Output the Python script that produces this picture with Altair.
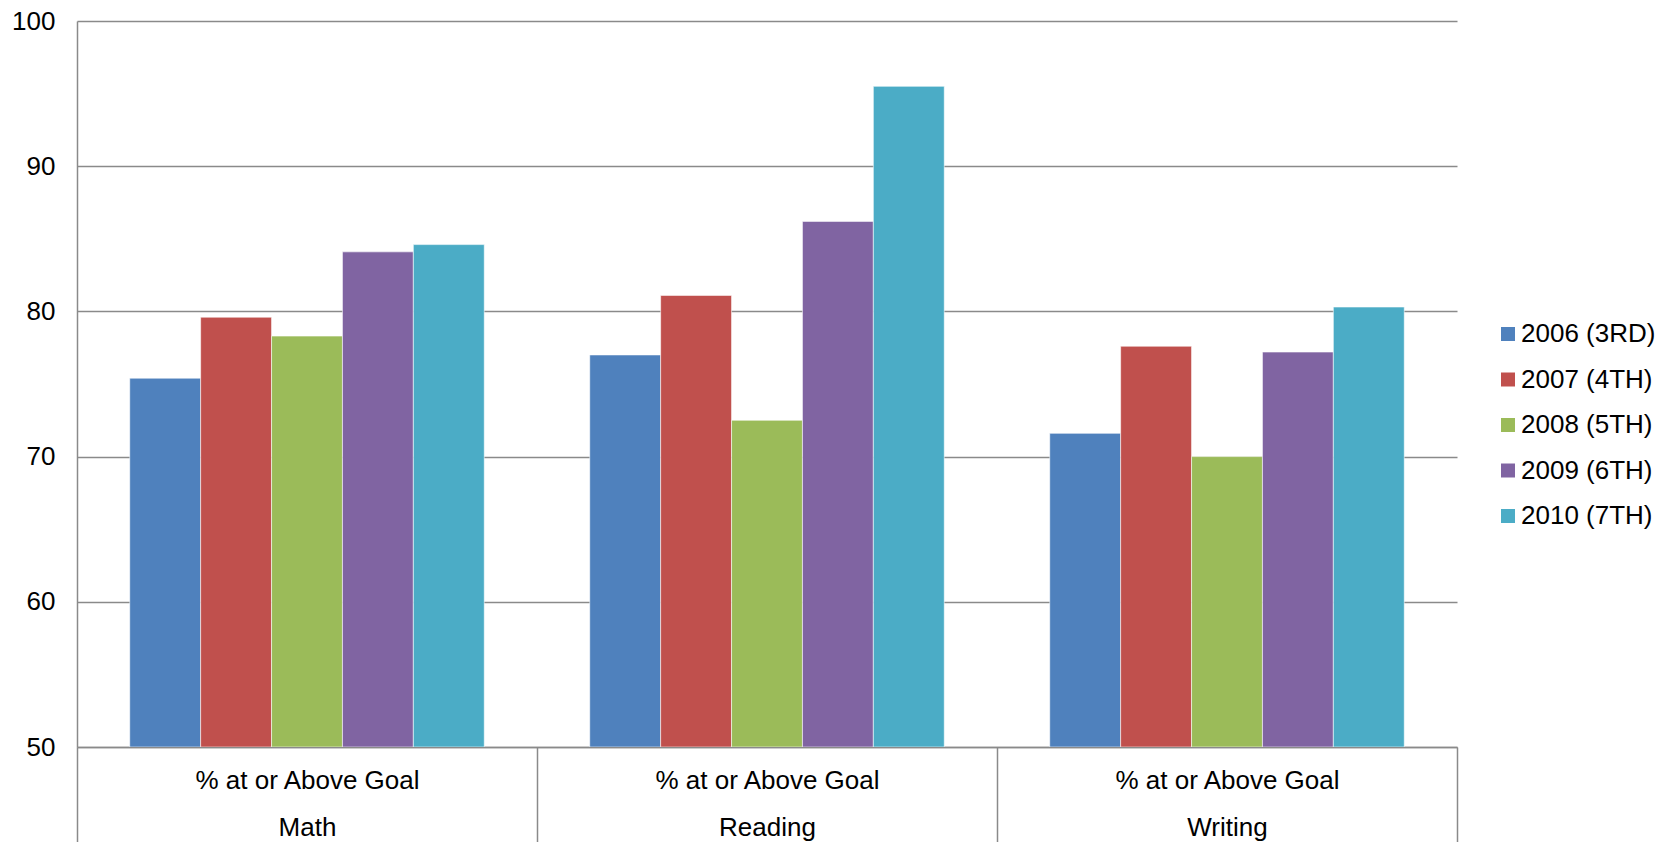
import altair as alt
import pandas as pd

subjects = ["Math", "Reading", "Writing"]
years = ["2006 (3RD)", "2007 (4TH)", "2008 (5TH)", "2009 (6TH)", "2010 (7TH)"]
math = [75.4, 79.6, 78.3, 84.1, 84.6]
reading = [77.0, 81.1, 72.5, 86.2, 95.5]
writing = [71.6, 77.6, 70.0, 77.2, 80.3]
colors = ["#4F81BD", "#C0504D", "#9BBB59", "#8064A2", "#4BACC6"]

rows = []
for subj, vals in zip(subjects, [math, reading, writing]):
    for yr, v in zip(years, vals):
        rows.append({"subject": subj, "year": yr, "value": v})
df = pd.DataFrame(rows)

FONT = "Liberation Sans"
GRID = "#8a8a8a"
FS = 26

chart = alt.Chart(df).mark_bar(clip=True, stroke="white", strokeWidth=0.8, strokeOpacity=0.7).encode(
    x=alt.X("subject:N", sort=subjects, title=None,
            scale=alt.Scale(paddingInner=0, paddingOuter=0),
            axis=alt.Axis(labelAngle=0,
                          labelExpr="datum.label ? ['% at or Above Goal', datum.label] : ''",
                          labelFont=FONT, labelFontSize=FS, labelColor="black", labelLimit=0,
                          labelLineHeight=47, labelBaseline="top", labelPadding=-80,
                          tickBand="extent", tickSize=100, tickColor=GRID, tickWidth=1.5,
                          domainColor=GRID, domainWidth=1.5)),
    xOffset=alt.XOffset("year:N", sort=years,
                        scale=alt.Scale(paddingInner=0, paddingOuter=0.744)),
    y=alt.Y("value:Q", title=None,
            scale=alt.Scale(domain=[50, 100], zero=False, nice=False),
            axis=alt.Axis(values=[50, 60, 70, 80, 90, 100], grid=True, gridColor=GRID, gridWidth=1.5,
                          ticks=False, labelFont=FONT, labelFontSize=FS, labelColor="black",
                          labelPadding=22, domainColor=GRID, domainWidth=1.5)),
    y2=alt.datum(50),
    color=alt.Color("year:N", sort=years, scale=alt.Scale(domain=years, range=colors),
                    legend=alt.Legend(title=None, orient="none", legendX=1418, legendY=300,
                                      symbolType="square", symbolSize=196, symbolStrokeWidth=0,
                                      labelFont=FONT, labelFontSize=FS, labelColor="black",
                                      labelOffset=0, rowPadding=19.5)),
).properties(
    width=1380, height=726,
    padding={"left": 77, "top": 21, "right": 217, "bottom": 95},
    autosize=alt.AutoSizeParams(type="none"),
).configure_view(stroke=None)

chart.save("out.html", embed_options={"renderer": "svg", "actions": False})
